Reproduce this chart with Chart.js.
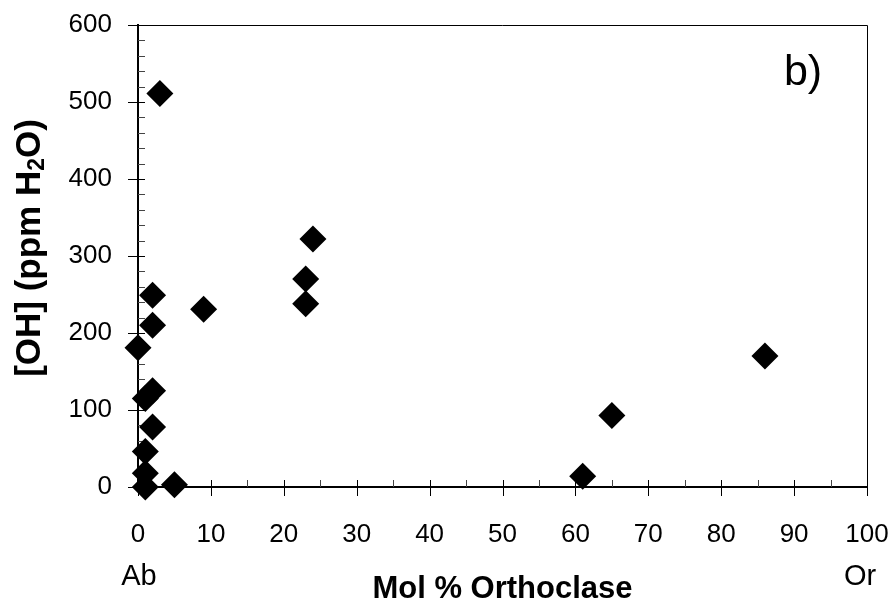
<!DOCTYPE html>
<html>
<head>
<meta charset="utf-8">
<script src="https://cdn.jsdelivr.net/npm/chart.js@4.4.1/dist/chart.umd.min.js"></script>
<style>
  html, body { margin: 0; padding: 0; background: #fff; }
  #wrap { width: 895px; height: 601px; position: relative; }
</style>
</head>
<body>
<div id="wrap"><canvas id="c"></canvas></div>
<script>
// values: mol % Or vs [OH] ppm H2O
const orthoclase = [3, 2, 9, 2, 0, 2, 1, 2, 1, 1, 1, 5, 24, 23, 23, 86, 65, 61];
const water = [511, 249, 231, 210, 181, 125, 115, 78, 46, 18, 0, 3, 322, 270, 238, 170, 93, 14];
const xTicks = [0, 10, 20, 30, 40, 50, 60, 70, 80, 90, 100];
const yTicks = [0, 100, 200, 300, 400, 500, 600];
const panelLabel = 'b)';
const endLabels = ['Ab', 'Or'];

const FONT = "'Liberation Sans', Arial, sans-serif";
const points = orthoclase.map((x, i) => ({ x, y: water[i] }));

// tick marks (major cross the axis, minor sit inside), frame, extra labels
const decor = {
  id: 'decor',
  beforeDatasetsDraw(chart) {
    const { ctx, chartArea: a, scales: { x, y } } = chart;
    ctx.save();
    ctx.strokeStyle = '#000';
    ctx.lineWidth = 1;
    ctx.beginPath();
    ctx.moveTo(a.left, a.top + 0.5); ctx.lineTo(a.right + 0.5, a.top + 0.5);
    ctx.lineTo(a.right + 0.5, a.bottom);
    ctx.stroke();
    for (let v = 0; v <= 100; v += 5) {
      const px = Math.round(x.getPixelForValue(v)) + 0.5;
      const major = v % 10 === 0;
      ctx.strokeStyle = major ? '#000' : '#444';
      ctx.beginPath();
      ctx.moveTo(px, a.bottom - 7); ctx.lineTo(px, a.bottom + (major ? 9 : 0));
      ctx.stroke();
    }
    for (let v = 0; v <= 600; v += 20) {
      const py = Math.round(y.getPixelForValue(v)) + 0.5;
      const major = v % 100 === 0;
      ctx.strokeStyle = major ? '#000' : '#444';
      ctx.beginPath();
      ctx.moveTo(a.left - (major ? 10 : 0), py); ctx.lineTo(a.left + 7, py);
      ctx.stroke();
    }
    ctx.restore();
  },
  afterDraw(chart) {
    const { ctx, scales: { x } } = chart;
    ctx.save();
    ctx.fillStyle = '#000';
    ctx.textAlign = 'center';
    ctx.textBaseline = 'alphabetic';
    ctx.font = '29px ' + FONT;
    ctx.fillText(endLabels[0], x.getPixelForValue(0) + 1, 585);
    ctx.fillText(endLabels[1], x.getPixelForValue(100) - 7, 585);
    ctx.font = '43px ' + FONT;
    ctx.fillText(panelLabel, 803, 85);

    // y title with subscript
    const big = 'bold 35px ' + FONT, small = 'bold 23px ' + FONT;
    const parts = [['[OH] (ppm H', big, 0], ['2', small, 8], ['O)', big, 0]];
    ctx.textAlign = 'left';
    ctx.textBaseline = 'middle';
    let total = 0;
    parts.forEach(p => { ctx.font = p[1]; total += ctx.measureText(p[0]).width; });
    ctx.translate(30, 248);
    ctx.rotate(-Math.PI / 2);
    let cx = -total / 2;
    parts.forEach(p => { ctx.font = p[1]; ctx.fillText(p[0], cx, p[2]); cx += ctx.measureText(p[0]).width; });
    ctx.restore();
  }
};

function noOverflow(s) { s.paddingTop = s.paddingBottom = s.paddingLeft = s.paddingRight = 0; }

new Chart(document.getElementById('c'), {
  type: 'scatter',
  data: {
    datasets: [{
      data: points,
      pointStyle: 'rectRot',
      pointRadius: 13.5,
      pointHoverRadius: 13.5,
      backgroundColor: '#000',
      borderColor: '#000',
      borderWidth: 0,
      clip: false
    }]
  },
  options: {
    responsive: true,
    maintainAspectRatio: false,
    animation: false,
    events: [],
    layout: { padding: { top: 25, right: 28, left: 0, bottom: 0 } },
    plugins: { legend: { display: false }, tooltip: { enabled: false } },
    scales: {
      x: {
        type: 'linear', min: 0, max: 100,
        afterBuildTicks: s => { s.ticks = xTicks.map(v => ({ value: v })); },
        afterFit: s => { s.height = 114; noOverflow(s); },
        grid: { drawOnChartArea: false, drawTicks: false },
        border: { display: true, color: '#000', width: 2 },
        ticks: { color: '#000', font: { family: FONT, size: 26 }, padding: 32, maxRotation: 0 },
        title: { display: true, text: 'Mol % Orthoclase', color: '#000',
                 font: { family: FONT, size: 31, weight: 'bold', lineHeight: 1 }, padding: { top: 0, bottom: -4 } }
      },
      y: {
        type: 'linear', min: 0, max: 600,
        afterBuildTicks: s => { s.ticks = yTicks.map(v => ({ value: v })); },
        afterFit: s => { s.width = 138; noOverflow(s); },
        grid: { drawOnChartArea: false, drawTicks: false },
        border: { display: true, color: '#000', width: 2 },
        ticks: { color: '#000', font: { family: FONT, size: 26 }, padding: 26 }
      }
    }
  },
  plugins: [decor]
});
</script>
</body>
</html>
